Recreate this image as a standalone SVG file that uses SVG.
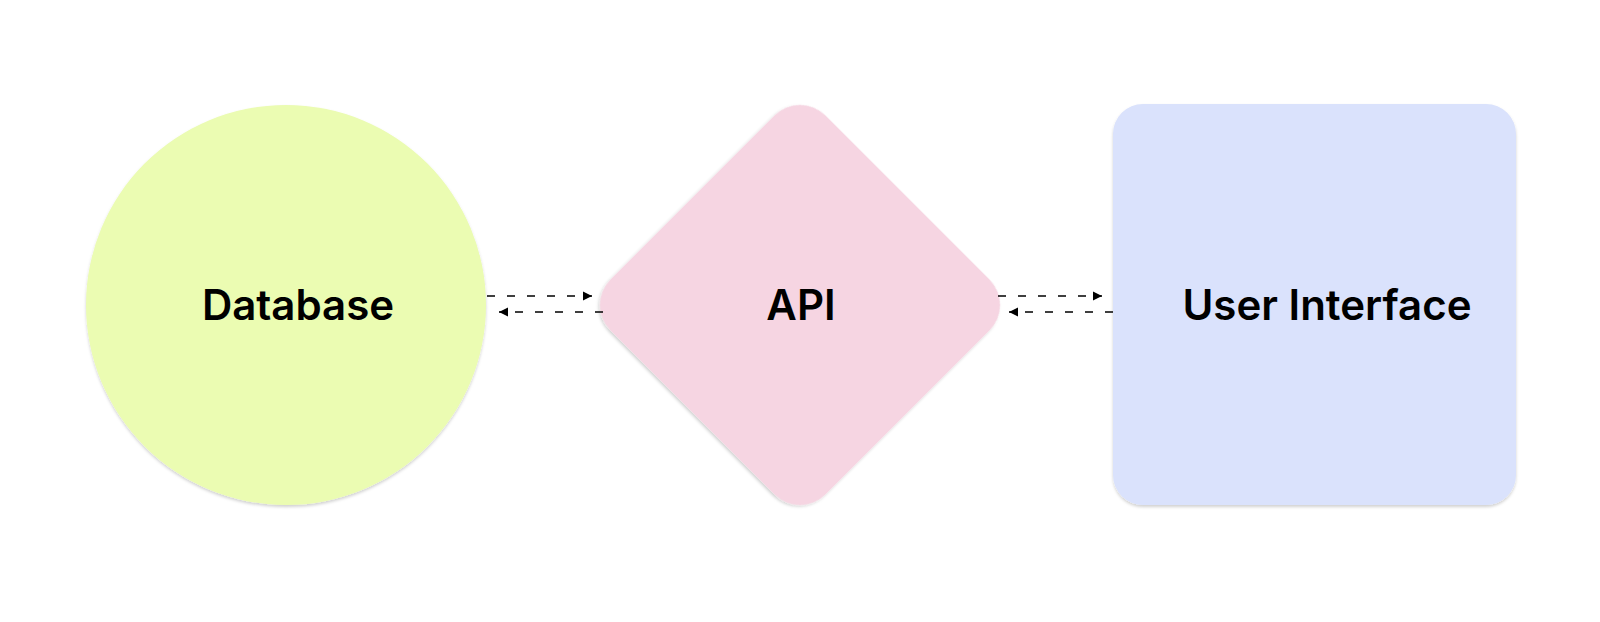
<svg xmlns="http://www.w3.org/2000/svg" width="1600" height="622" viewBox="0 0 1600 622">
  <defs>
    <filter id="shadow" x="-10%" y="-10%" width="120%" height="120%">
      <feDropShadow dx="0" dy="2" stdDeviation="1.5" flood-color="#000" flood-opacity="0.18"/>
    </filter>
    <marker id="arrow" viewBox="0 0 10 10" refX="10" refY="5" markerWidth="9" markerHeight="10" markerUnits="userSpaceOnUse" orient="auto">
      <path d="M0,0 L10,5 L0,10 Z" fill="#000"/>
    </marker>
  </defs>
  <style>
    .label { font-family: Inter, "Liberation Sans", sans-serif; font-weight: 600; font-size: 42px; fill: #000; text-anchor: middle; }
    .conn { stroke: #000; stroke-width: 1.5; stroke-dasharray: 8 12; fill: none; marker-end: url(#arrow); }
  </style>
  <rect width="1600" height="622" fill="#fff"/>
  <g id="database">
    <circle cx="286" cy="305" r="200" fill="#EBFCB2" filter="url(#shadow)"/>
    <text class="label" x="298" y="320">Database</text>
  </g>
  <g id="api">
    <rect x="648" y="153" width="304" height="304" rx="36" ry="36" fill="#F6D5E2" transform="rotate(45 800 305)" filter="url(#shadow)"/>
    <text class="label" x="801" y="320">API</text>
  </g>
  <g id="user-interface">
    <rect x="1113" y="104" width="403" height="401" rx="30" ry="30" fill="#DAE2FC" filter="url(#shadow)"/>
    <text class="label" x="1327" y="320">User Interface</text>
  </g>
  <g id="connectors">
    <line class="conn" x1="487" y1="296" x2="592" y2="296"/>
    <line class="conn" x1="603" y1="312" x2="499" y2="312"/>
    <line class="conn" x1="998" y1="296" x2="1102" y2="296"/>
    <line class="conn" x1="1113" y1="312" x2="1009" y2="312"/>
  </g>
</svg>
